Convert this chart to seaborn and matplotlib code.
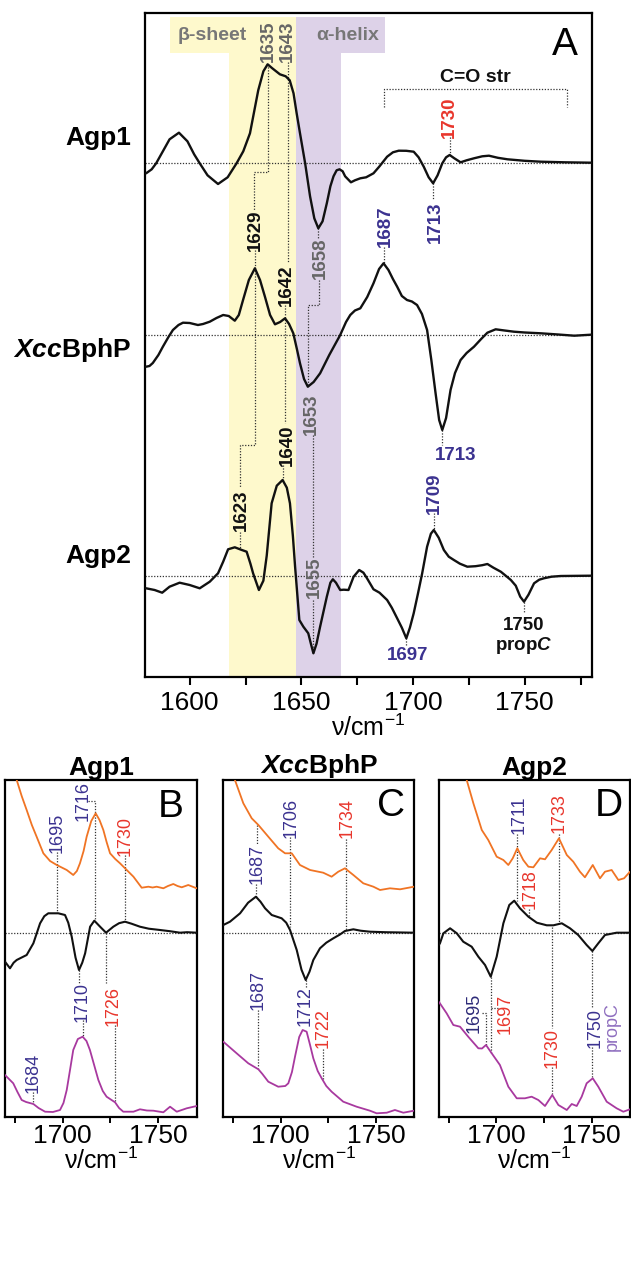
import matplotlib
matplotlib.use("Agg")
import matplotlib.pyplot as plt
from matplotlib.ticker import MultipleLocator, NullFormatter
import numpy as np
import pandas as pd
import seaborn as sns

# ------------------------------------------------------------------ data
# Panel A difference spectra (arbitrary units, relative to each zero line)
agp1_nu = [1580.5, 1583, 1585.0, 1588, 1591, 1595.2, 1599, 1602, 1604.5, 1608, 1612.7, 1617, 1621.0, 1624,
           1627.0, 1630.7, 1633, 1634.9, 1637, 1640.4, 1643, 1644.8, 1646.5, 1647.9, 1649.4, 1651.7, 1653.9,
           1655.8, 1657.6, 1659.5, 1661.4, 1663, 1664.4, 1665.8, 1667.1, 1668.5, 1669.6, 1672.2, 1674, 1676.4,
           1679, 1682.3, 1685, 1688.4, 1691, 1693.6, 1697, 1700.3, 1702.5, 1704.8, 1707, 1709.0, 1711, 1713.1,
           1714.8, 1716.4, 1718.5, 1721.3, 1724, 1727.3, 1731, 1734.0, 1738, 1742.3, 1750, 1757.2, 1768, 1779.7]
agp1_dA = [-10, -6, 0, 12, 24, 30.6, 22, 9, 0, -12, -20.7, -14, 0, 12,
           30, 73, 92, 99, 95, 89, 87, 83, 70, 50, 30, 0, -33,
           -55, -65, -58, -40, -23, -13, -7, -6, -8, -13, -19, -17, -15,
           -14, -10, -3, 6.6, 11, 12.6, 12.5, 11.6, 6, -3.4, -14, -20, -12, 0,
           6, 8.3, 5, 1, 3, 5, 7, 7.6, 5.5, 4, 2.5, 1.6, 1, 0.6]

xcc_nu = [1580.5, 1582, 1583.5, 1586, 1588.0, 1590.5, 1592.5, 1595, 1597.0, 1600, 1603.7, 1606, 1609.0, 1612,
          1615.0, 1617.5, 1620.2, 1622, 1623.9, 1626.5, 1629.2, 1631.5, 1633.7, 1636, 1638.2, 1640.5, 1642.7,
          1644.5, 1646.4, 1648, 1649.4, 1651.2, 1652.9, 1655.5, 1658.4, 1662.5, 1667.4, 1670, 1671.9, 1674,
          1676.4, 1679.5, 1682.3, 1684.8, 1686.8, 1689, 1691, 1692.9, 1695, 1697.3, 1699.5, 1701.8, 1704,
          1706.3, 1708.2, 1710.1, 1711.7, 1713.1, 1714.8, 1716.8, 1718.8, 1721.3, 1724, 1727.3, 1730.5,
          1733.3, 1737.0, 1741, 1745.2, 1750, 1757.2, 1765, 1772.2, 1779.7]
xcc_dA = [-31.7, -31, -28, -20, -11.7, -2, 5, 10, 12.3, 12, 10, 11, 13.3, 17,
          20, 19, 14.3, 20, 35, 55, 66.7, 55, 38.3, 20, 10.7, 13, 16.7,
          11, 1.7, -14, -28.3, -44, -51.7, -47, -38.3, -20, 0, 13, 20, 24.5,
          26.7, 38, 51.7, 66, 71.7, 65, 56, 48.3, 39, 35, 33.5, 30, 21,
          5, -25, -58.3, -85, -95, -83, -55, -38, -25, -18, -11.7, -4,
          2.3, 5.7, 4.5, 3.3, 2.5, 1.7, 0.5, -0.7, 0.3]

agp2_nu = [1580.5, 1584.3, 1587.7, 1591.0, 1595.5, 1600.0, 1604.5, 1609.0, 1612.7, 1615, 1617.2, 1620.2, 1623,
           1625.5, 1627.2, 1628.4, 1631.0, 1633.0, 1634.5, 1636.7, 1639, 1641.6, 1643.5, 1644.9, 1646.2, 1647.2,
           1649.1, 1650.9, 1653.1, 1654.5, 1655.4, 1656.8, 1658.4, 1661.4, 1663, 1664.1, 1665.5, 1667.4, 1669,
           1671.1, 1673.4, 1675.9, 1677.8, 1679.4, 1682.3, 1685, 1688.4, 1690.5, 1692.9, 1695, 1697.0, 1698.6,
           1700.3, 1702.2, 1704.1, 1706.3, 1708, 1709.3, 1711.5, 1713.8, 1716, 1718.3, 1721, 1724.3, 1728,
           1731, 1733.3, 1736, 1739.3, 1741.5, 1743.8, 1746, 1748, 1749.7, 1751.7, 1754.2, 1756.5, 1758.6,
           1762, 1766.2, 1779.7]
agp2_dA = [-12.6, -14.3, -17, -11, -7, -9.3, -12.6, -6, 2.4, 14, 26.4, 28.4, 26,
           24, 12, 2.4, -14.3, -5, 20, 72.4, 90, 95.7, 88, 72.4, 40, 9,
           -44.3, -51, -57.6, -70, -77.6, -68, -51, -21, -7, -3.6, -7, -14.3, -14,
           -14.3, -1, 5.7, 3, -2.6, -13.6, -17, -24.3, -32, -42.6, -52, -62.6, -52,
           -37.6, -18, 2.4, 29, 42, 45.7, 38, 25.7, 19, 15.7, 12, 9, 9.5,
           10.5, 11.7, 8, 4, 0, -4.3, -10, -21, -26, -19, -7.6, -4, -2.6,
           -1, -0.3, 0]

# Panels B-D: orange (top), difference (middle, around zero line), magenta (bottom)
b_orange_nu = [1674.8, 1676.1, 1678.7, 1681.3, 1684, 1686.5, 1690.0, 1693.5, 1697.0, 1702.2, 1705.6, 1707.5,
               1709.1, 1711, 1712.6, 1715, 1717.3, 1719.3, 1721.3, 1723, 1724.8, 1727.5, 1730.0, 1733.5, 1737.0,
               1741.3, 1744.8, 1747, 1749.1, 1752.6, 1755, 1757.8, 1760, 1762.2, 1765.6, 1770]
b_orange_y = [350, 337, 321, 307, 292, 280.3, 263.7, 256, 252, 247, 242, 246,
              253.7, 266, 280.3, 296, 303.7, 297, 287, 275, 263.7, 258, 253.7, 247, 240.3,
              229.3, 230.3, 229.5, 230.3, 228.7, 231, 233, 231, 229.7, 232, 228.7]
b_diff_nu = [1670, 1672.6, 1674.5, 1676.1, 1679, 1681.3, 1684.8, 1688.3, 1690.5, 1692.6, 1697.8, 1701.3, 1703,
             1704.8, 1706.8, 1708.6, 1710.3, 1711.8, 1714.4, 1716.6, 1719.6, 1722.7, 1726.5, 1729.5, 1732.6,
             1736, 1740.4, 1745, 1750.9, 1756, 1761.3, 1765, 1770]
b_diff_y = [-29, -35.6, -30, -27.3, -24.5, -22.3, -10.6, 9.4, 16.5, 19.4, 19.4, 17.7, 10,
            -4, -25, -37.3, -30, -20.6, 6, 12, 6, 0, 6, 9.5, 11,
            9, 6, 4, 2.7, 1.5, 0, 0.5, 0]
b_mag_nu = [1670, 1674.3, 1676.5, 1678.7, 1681, 1684.8, 1687.5, 1690.9, 1695, 1698.7, 1700.5, 1702.2, 1704,
            1705.6, 1708, 1710.5, 1712.5, 1714.3, 1716.5, 1718.7, 1721, 1723.0, 1727.4, 1729.5, 1731.7, 1737,
            1740.4, 1744, 1747.4, 1752.6, 1756.1, 1759.6, 1764.8, 1770]
b_mag_y = [42, 33.7, 25, 17, 15, 13, 9, 5.3, 5, 7, 14, 27, 48,
           67, 78, 80.3, 76, 67, 52, 37, 26, 20.3, 14.7, 9, 5.3, 5.3,
           7.7, 6.5, 6.3, 4.7, 10.3, 5.3, 8.7, 11]

c_orange_nu = [1674.8, 1676.1, 1680.5, 1684.9, 1688.4, 1693.6, 1698.8, 1702.4, 1705.9, 1710.2, 1715.5, 1722.4,
               1726.8, 1730.3, 1733.8, 1738.2, 1743.4, 1748.7, 1752.2, 1757.4, 1762.7, 1770]
c_orange_y = [350, 337, 313.7, 298.7, 292, 280.3, 268.7, 263.7, 263.7, 252, 247, 244.3,
              240.3, 245.3, 248.7, 242, 233.7, 230.3, 227, 228.7, 227.7, 230.3]
c_diff_nu = [1670, 1673.5, 1678.8, 1683, 1687.1, 1689.5, 1691.9, 1695.4, 1700.6, 1703, 1705.0, 1708.5, 1711,
             1713.2, 1715.2, 1717.2, 1720.7, 1724, 1727.7, 1731, 1733.8, 1738.2, 1742, 1746.9, 1755, 1770]
c_diff_y = [7.7, 11, 19.4, 30, 36, 31, 24.4, 17.7, 14.4, 10, 2.7, -17.3, -37,
            -47.3, -39, -27.3, -15.6, -10, -5.6, -2, 1.7, 3.4, 2, 1, 0.5, 0]
c_mag_nu = [1670, 1677, 1683.1, 1688.4, 1690.5, 1693.6, 1698.8, 1702.5, 1704.1, 1706, 1707.6, 1709.8, 1711.6,
            1713.7, 1715.5, 1717.2, 1719.5, 1721.6, 1724, 1726.8, 1732.9, 1739.9, 1746.9, 1750.4, 1755.7, 1760,
            1764.4, 1770]
c_mag_y = [75.3, 63.7, 53.7, 47.7, 43, 35.3, 30.3, 31, 33.7, 45, 60.3, 80, 87,
           85.3, 72, 58.7, 46, 38.7, 31, 25.3, 15.3, 10.3, 6.3, 3.7, 4.3, 7,
           4.3, 6.3]

d_orange_nu = [1683.8, 1684.5, 1688.0, 1692.4, 1695.8, 1700.2, 1703.7, 1706.3, 1708.6, 1711.0, 1714.1, 1716.8,
               1719.4, 1722.9, 1725.5, 1729.0, 1732.8, 1736.9, 1740.3, 1743.8, 1746.4, 1750.5, 1754.3, 1756.9,
               1760.4, 1763.9, 1766.9, 1770]
d_orange_y = [350, 337, 313.7, 287, 277, 260.3, 257, 252, 258.7, 268.7, 257, 250.3,
              249.7, 258.7, 257.7, 267, 278.7, 262, 255.3, 245.3, 239.7, 252, 238.7, 245.3,
              247, 237, 238.7, 245.3]
d_diff_nu = [1670.0, 1670.5, 1672.3, 1675.8, 1679.3, 1682.7, 1687.1, 1690.6, 1694.1, 1697.1, 1700.2, 1703.7,
             1706.8, 1709.4, 1712.4, 1716.8, 1721.2, 1726.4, 1729.9, 1734.3, 1738.6, 1742.9, 1747.3, 1750.3,
             1753.4, 1756.9, 1763, 1770]
d_diff_y = [-12, -10.6, -0.6, 4.4, -0.6, -9, -14, -24, -32.3, -44, -24, 9.4,
            27.7, 32, 24.4, 16, 10, 7.4, 7.4, 9.4, 4.4, -2.3, -12.3, -18.3,
            -10.6, -2.3, 0, 0]
d_mag_nu = [1670.0, 1674, 1677.5, 1681, 1685.3, 1690.6, 1692.5, 1694.6, 1697.6, 1701.9, 1706.3, 1710.7, 1715.0,
            1718.5, 1722.0, 1725.5, 1729.3, 1732.5, 1736.9, 1739.5, 1742.1, 1744.7, 1747.3, 1750.5, 1753.4,
            1757.8, 1763, 1766.5, 1770]
d_mag_y = [115, 103.7, 92, 90.3, 80.3, 68.7, 68.5, 72, 63.7, 52, 30.3, 18.7, 18.7,
           20.3, 17, 11, 22, 12, 7, 13, 11, 20.3, 33.7, 38.7, 30.3,
           15.3, 8.7, 5.3, 7.7]

panel_a_ticks = [1600, 1650, 1700, 1750]
panel_bcd_ticks = [1700, 1750]

# ------------------------------------------------------------------ style
sns.set_theme(style="ticks")
plt.rcParams.update({
    "font.family": ["Liberation Sans", "DejaVu Sans"],
    "mathtext.fontset": "custom",
    "mathtext.rm": "Liberation Sans",
    "mathtext.it": "Liberation Sans:italic:bold",
    "mathtext.bf": "Liberation Sans:bold",
    "text.color": "black",
    "axes.labelcolor": "black",
    "xtick.color": "black",
    "ytick.color": "black",
    "axes.edgecolor": "black",
    "axes.linewidth": 1.6,
    "lines.solid_joinstyle": "round",
    "lines.solid_capstyle": "round",
})

BLACK = "#111111"
ORANGE = "#f07424"
MAGENTA = "#a8399f"
BLUE = "#3b3290"
DBLUE = "#2d2a78"
RED = "#e8362c"
GRAY = "#666666"
LGRAY = "#777777"
YELLOW = "#fef9cc"
VIOLET = "#ddd2e8"
PVIOLET = "#8f6fbf"
DOT = dict(color="#333333", lw=0.9, ls=(0, (1, 1.3)), zorder=2)

W, H = 631, 1269
fig = plt.figure(figsize=(W / 100, H / 100), dpi=100)


def px_axes(l, t, r, b):
    return fig.add_axes([l / W, 1 - b / H, (r - l) / W, (b - t) / H])


def trace(ax, nu, y, off, color, lw):
    df = pd.DataFrame({"nu": nu, "y": np.asarray(y, float) + off})
    sns.lineplot(data=df, x="nu", y="y", ax=ax, color=color, lw=lw, sort=False,
                 estimator=None, zorder=3, solid_joinstyle="round")


def dl(ax, pts):
    xs, ys = zip(*pts)
    ax.plot(xs, ys, **DOT)


def rlab(ax, x, y, s, color, size=13.5, weight="bold"):
    ax.text(x, y, s, rotation=90, ha="center", va="center", color=color,
            fontsize=size, fontweight=weight, zorder=4)


def hlab(ax, x, y, s, color, size=13.5, weight="bold"):
    ax.text(x, y, s, ha="center", va="center", color=color,
            fontsize=size, fontweight=weight, zorder=4)


# ------------------------------------------------------------------ panel A
axA = px_axes(145, 13, 591.7, 677)
axA.set_xlim(1580, 1780)
axA.set_ylim(0, 664)
top_frac = 660 / 664
axA.axvspan(1617.7, 1647.6, ymin=0, ymax=top_frac, color=YELLOW, lw=0, zorder=0)
axA.axvspan(1647.6, 1667.7, ymin=0, ymax=top_frac, color=VIOLET, lw=0, zorder=0)
axA.fill_between([1591, 1647.6], 624, 660, color=YELLOW, lw=0, zorder=0)
axA.fill_between([1647.6, 1687.6], 624, 660, color=VIOLET, lw=0, zorder=0)
axA.text(1610.1, 642, "β-sheet", ha="center", va="center", color=LGRAY, fontsize=14, fontweight="bold")
axA.text(1670.8, 642, "α-helix", ha="center", va="center", color=LGRAY, fontsize=14, fontweight="bold")

offA = {"agp1": 513.7, "xcc": 342.0, "agp2": 101.3}
for off in offA.values():
    axA.axhline(off, **DOT)
trace(axA, agp1_nu, agp1_dA, offA["agp1"], BLACK, 1.7)
trace(axA, xcc_nu, xcc_dA, offA["xcc"], BLACK, 1.7)
trace(axA, agp2_nu, agp2_dA, offA["agp2"], BLACK, 1.7)

# annotation chains
dl(axA, [(1634.9, 613), (1634.9, 505.3), (1628.9, 505.3), (1628.9, 467)])
rlab(axA, 1635.2, 636, "1635", GRAY)
rlab(axA, 1629.5, 447, "1629", BLACK)
dl(axA, [(1629.2, 427), (1629.2, 232), (1622.5, 232), (1622.5, 189)])
rlab(axA, 1623.2, 167, "1623", BLACK)
dl(axA, [(1622.5, 145), (1622.5, 128)])
rlab(axA, 1643.9, 636, "1643", GRAY)
dl(axA, [(1643.9, 615), (1643.9, 415)])
rlab(axA, 1643.4, 392, "1642", BLACK)
dl(axA, [(1642.7, 372), (1642.7, 254)])
rlab(axA, 1643.7, 232, "1640", BLACK)
dl(axA, [(1641.6, 212), (1641.6, 197)])
dl(axA, [(1657.6, 449), (1657.6, 439)])
rlab(axA, 1658.4, 419, "1658", GRAY)
dl(axA, [(1658.0, 397), (1658.0, 372), (1652.9, 372), (1652.9, 290)])
rlab(axA, 1654.7, 263, "1653", GRAY)
dl(axA, [(1655.0, 242), (1655.0, 120)])
rlab(axA, 1655.7, 99.5, "1655", GRAY)
dl(axA, [(1655.4, 77), (1655.4, 24)])
rlab(axA, 1687.4, 451, "1687", BLUE)
dl(axA, [(1686.8, 430), (1686.8, 414)])
rlab(axA, 1710.1, 454.5, "1713", BLUE)
dl(axA, [(1709.0, 494), (1709.0, 477)])
rlab(axA, 1716.1, 560, "1730", RED)
dl(axA, [(1716.4, 540), (1716.4, 522)])
hlab(axA, 1719.0, 222, "1713", BLUE)
dl(axA, [(1713.1, 247), (1713.1, 232)])
rlab(axA, 1709.4, 184, "1709", BLUE)
dl(axA, [(1709.3, 164), (1709.3, 147)])
hlab(axA, 1697.5, 21, "1697", BLUE)
dl(axA, [(1697.0, 39), (1697.0, 32)])
hlab(axA, 1749.6, 51, "1750", BLACK)
hlab(axA, 1749.6, 31, r"prop$\mathit{C}$", BLACK)
dl(axA, [(1749.7, 75), (1749.7, 65)])
hlab(axA, 1728, 599, "C=O str", BLACK, size=14)
dl(axA, [(1687.2, 570.3), (1687.2, 587.7), (1768.8, 587.7), (1768.8, 570.3)])
axA.text(1768, 632, "A", ha="center", va="center", fontsize=28)

for s, y in [("Agp1", 532), (r"$\mathit{Xcc}$BphP", 320.3), ("Agp2", 113.7)]:
    axA.text(1573.9, y, s, ha="right", va="baseline", fontsize=19, fontweight="bold", clip_on=False)

axA.set_xticks(panel_a_ticks)
axA.xaxis.set_minor_locator(MultipleLocator(25))
axA.xaxis.set_minor_formatter(NullFormatter())
axA.set_yticks([])
axA.tick_params(axis="x", which="both", direction="out", length=6, width=1.5, labelsize=19, pad=4)
axA.set_xlabel("ν/cm$^{-1}$", fontsize=18, labelpad=0)
axA.set_ylabel("")

# ------------------------------------------------------------------ panels B-D
panels = [
    ("B", "Agp1", (5, 196.7), b_orange_nu, b_orange_y, b_diff_nu, b_diff_y, b_mag_nu, b_mag_y),
    ("C", r"$\mathit{Xcc}$BphP", (223.3, 414), c_orange_nu, c_orange_y, c_diff_nu, c_diff_y, c_mag_nu, c_mag_y),
    ("D", "Agp2", (439, 630), d_orange_nu, d_orange_y, d_diff_nu, d_diff_y, d_mag_nu, d_mag_y),
]
axes = {}
zero_bcd = 184.3
for letter, title, (l, r), onu, oy, dnu, dy, mnu, my in panels:
    ax = px_axes(l, 780, r, 1117)
    axes[letter] = ax
    ax.set_xlim(1670, 1770)
    ax.set_ylim(0, 337)
    ax.axhline(zero_bcd, **DOT)
    trace(ax, onu, oy, 0, ORANGE, 1.3)
    trace(ax, dnu, dy, zero_bcd, BLACK, 1.5)
    trace(ax, mnu, my, 0, MAGENTA, 1.3)
    ax.set_xticks(panel_bcd_ticks)
    ax.xaxis.set_minor_locator(MultipleLocator(25))
    ax.xaxis.set_minor_formatter(NullFormatter())
    ax.set_yticks([])
    ax.tick_params(axis="x", which="both", direction="out", length=4, width=1.4, labelsize=19, pad=1)
    ax.set_xlabel("ν/cm$^{-1}$", fontsize=18, labelpad=0)
    ax.set_ylabel("")
    ax.set_title(title, fontsize=19, fontweight="bold", pad=3)

axB, axC, axD = axes["B"], axes["C"], axes["D"]
S = 13
# B
axB.text(1756.6, 310, "B", ha="center", va="center", fontsize=28)
rlab(axB, 1711.0, 316, "1716", BLUE, S, "normal")
dl(axB, [(1713.3, 316.3), (1717.2, 316.3), (1717.2, 197)])
rlab(axB, 1697.4, 284.5, "1695", BLUE, S, "normal")
dl(axB, [(1697.3, 265), (1697.3, 204)])
rlab(axB, 1732.9, 281.5, "1730", RED, S, "normal")
dl(axB, [(1732.8, 262), (1732.8, 196)])
rlab(axB, 1710.2, 115.5, "1710", BLUE, S, "normal")
dl(axB, [(1708.6, 147), (1708.6, 134)])
dl(axB, [(1710.5, 97), (1710.5, 80)])
rlab(axB, 1726.5, 110.5, "1726", RED, S, "normal")
dl(axB, [(1722.7, 184.3), (1722.7, 134)])
dl(axB, [(1727.4, 92), (1727.4, 15)])
rlab(axB, 1684.9, 44.5, "1684", BLUE, S, "normal")
dl(axB, [(1684.8, 25), (1684.8, 13)])
# C
axC.text(1758.1, 311, "C", ha="center", va="center", fontsize=28)
rlab(axC, 1687.7, 252.5, "1687", BLUE, S, "normal")
dl(axC, [(1687.5, 292), (1687.5, 272)])
dl(axC, [(1687.1, 233), (1687.1, 220)])
rlab(axC, 1705.5, 299.5, "1706", BLUE, S, "normal")
dl(axC, [(1705.0, 280), (1705.0, 190)])
rlab(axC, 1734.7, 298.5, "1734", RED, S, "normal")
dl(axC, [(1734.3, 278), (1734.3, 187)])
rlab(axC, 1712.8, 110.5, "1712", BLUE, S, "normal")
dl(axC, [(1713.2, 137), (1713.2, 129)])
rlab(axC, 1688.4, 126.5, "1687", BLUE, S, "normal")
dl(axC, [(1688.4, 107), (1688.4, 49)])
rlab(axC, 1722.4, 88.5, "1722", RED, S, "normal")
dl(axC, [(1722.4, 68), (1722.4, 37)])
# D
axD.text(1759, 311, "D", ha="center", va="center", fontsize=28)
rlab(axD, 1711.8, 302, "1711", BLUE, S, "normal")
dl(axD, [(1711.0, 283), (1711.0, 216.3)])
rlab(axD, 1733.0, 303.5, "1733", RED, S, "normal")
dl(axD, [(1732.8, 283), (1732.8, 194)])
rlab(axD, 1717.6, 227.5, "1718", RED, S, "normal")
dl(axD, [(1717.1, 208), (1717.1, 200)])
rlab(axD, 1688.4, 104.5, "1695", DBLUE, S, "normal")
dl(axD, [(1692.5, 104.3), (1694.6, 104.3), (1694.6, 72)])
rlab(axD, 1704.8, 103.5, "1697", RED, S, "normal")
dl(axD, [(1697.1, 140.3), (1697.1, 63.7)])
dl(axD, [(1697.1, 108.7), (1700.9, 108.7)])
rlab(axD, 1729.4, 69.5, "1730", RED, S, "normal")
dl(axD, [(1729.3, 190.3), (1729.3, 89)])
dl(axD, [(1729.3, 50), (1729.3, 22)])
rlab(axD, 1751.7, 89.5, "1750", BLUE, S, "normal")
rlab(axD, 1760.8, 90.5, "propC", PVIOLET, S, "normal")
dl(axD, [(1750.3, 166), (1750.3, 109)])
dl(axD, [(1750.3, 70), (1750.3, 39)])

fig.savefig("out.png", dpi=100)
